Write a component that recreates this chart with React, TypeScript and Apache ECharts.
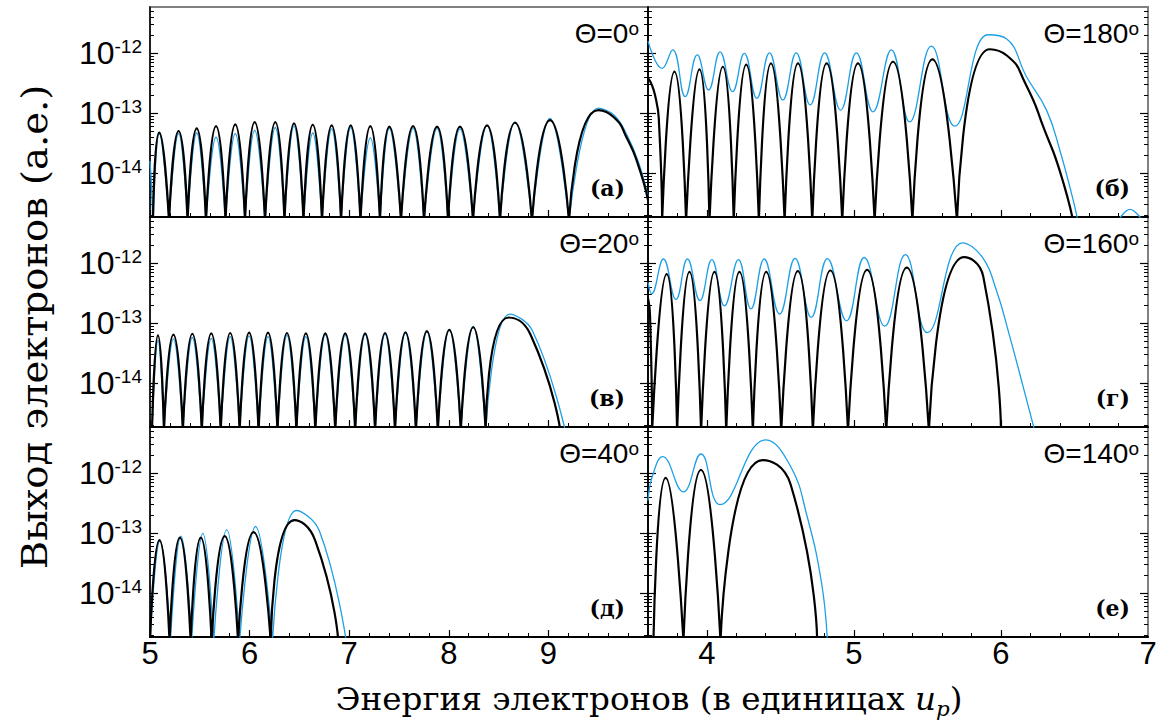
import React, { useEffect, useRef } from "react";
import * as echarts from "echarts";

type Pt = [number, number];

// ---------- axes ----------
const Y_MIN = 1.87e-15;
const Y_MAX = 5.92e-12;
const ZERO = 1.6e-15; // a fringe zero, drawn just under the axis floor
const LEFT_RANGE: Pt = [5, 10];
const RIGHT_RANGE: Pt = [3.6, 7];
const LEFT_LABELS = [5, 6, 7, 8, 9];
const RIGHT_LABELS = [4, 5, 6, 7];
const Y_LABELS = [1e-14, 1e-13, 1e-12];
const THETA = ["0", "180", "20", "160", "40", "140"];
const LETTERS = ["(а)", "(б)", "(в)", "(г)", "(д)", "(е)"];

// ---------- (а) Θ=0° ----------
const aZeros = [5.03, 5.191, 5.377, 5.562, 5.758, 5.954, 6.155, 6.35, 6.541, 6.727, 6.918, 7.113, 7.309, 7.52, 7.751, 7.992, 8.243, 8.514, 8.835, 9.207];
const aBlack: Pt[][] = [
  [[5.093, 4.75e-14]], [[5.287, 5.07e-14]], [[5.469, 5.62e-14]], [[5.663, 6.14e-14]], [[5.856, 6.56e-14]],
  [[6.051, 7.16e-14]], [[6.258, 7.16e-14]], [[6.446, 6.81e-14]], [[6.634, 6.45e-14]], [[6.824, 6.3e-14]],
  [[7.015, 6.3e-14]], [[7.212, 6.14e-14]], [[7.403, 5.98e-14]], [[7.641, 6.14e-14]], [[7.882, 5.98e-14]],
  [[8.112, 5.98e-14]], [[8.384, 6.3e-14]], [[8.665, 6.97e-14]], [[9.016, 7.73e-14]],
  [[9.5, 1.13e-13], [9.66, 8.5e-14], [9.79, 3.8e-14], [9.9, 1.4e-14], [10.0, 3.6e-15]],
];
const aBlue: Pt[][] = [
  [[5.093, 4.6e-14]], [[5.287, 4.6e-14]], [[5.469, 4.7e-14]], [[5.663, 4.0e-14]], [[5.856, 4.6e-14]],
  [[6.051, 5.2e-14]], [[6.258, 5.8e-14]], [[6.446, 6.1e-14]], [[6.634, 4.7e-14]], [[6.824, 5.5e-14]],
  [[7.015, 5.8e-14]], [[7.212, 3.9e-14]], [[7.403, 5.6e-14]], [[7.641, 5.6e-14]], [[7.882, 5.6e-14]],
  [[8.112, 5.5e-14]], [[8.384, 6.3e-14]], [[8.665, 7.2e-14]], [[9.016, 8.2e-14]],
  [[9.5, 1.22e-13], [9.66, 9.3e-14], [9.79, 4.3e-14], [9.9, 1.6e-14], [10.0, 4.2e-15]],
];
const aBlueLead: Pt[] = [[5.0, 1.6e-14], [5.015, 6e-15], [5.028, ZERO]];

// ---------- (б) Θ=180° ----------
const bLead: Pt[] = [[3.6, 3.9e-13], [3.648, 2.0e-13], [3.676, 6e-14], [3.696, ZERO]];
const bZeros = [3.696, 3.859, 4.018, 4.183, 4.354, 4.529, 4.717, 4.921, 5.141, 5.398, 5.701, 6.491];
const bBlack: Pt[][] = [
  [[3.78, 4.94e-13]], [[3.95, 5.41e-13]], [[4.109, 5.98e-13]], [[4.268, 6.5e-13]], [[4.436, 6.8e-13]],
  [[4.62, 6.8e-13]], [[4.815, 6.8e-13]], [[5.028, 6.8e-13]], [[5.266, 7.24e-13]], [[5.534, 7.94e-13]],
  [[5.924, 1.17e-12], [6.04, 9.2e-13], [6.17, 3.0e-13], [6.3, 5e-14], [6.4, 1.1e-14]],
];
const bBlue: Pt[] = [
  [3.6, 1.6e-12], [3.696, 5.6e-13], [3.768, 1.14e-12], [3.853, 1.9e-13], [3.935, 9.4e-13], [4.012, 2.45e-13],
  [4.09, 1.06e-12], [4.175, 2.3e-13], [4.255, 1.0e-12], [4.34, 1.78e-13], [4.426, 1.02e-12], [4.517, 1.67e-13],
  [4.608, 1.02e-12], [4.703, 1.38e-13], [4.801, 1.02e-12], [4.91, 1.13e-13], [5.017, 1.02e-12], [5.13, 1.06e-13],
  [5.255, 1.14e-12], [5.379, 7.2e-14], [5.527, 1.32e-12], [5.686, 6.1e-14], [5.912, 2.04e-12], [6.038, 1.75e-12],
  [6.174, 4.07e-13], [6.31, 1.13e-13], [6.4, 2.45e-14], [6.491, 3.6e-15], [6.523, ZERO],
];
const bBlueBump: Pt[] = [[6.797, ZERO], [6.877, 2.5e-15], [6.963, ZERO]];

// ---------- (в) Θ=20° ----------
const cZeros = [5.02, 5.14, 5.33, 5.52, 5.71, 5.9, 6.09, 6.28, 6.47, 6.66, 6.86, 7.06, 7.26, 7.46, 7.67, 7.89, 8.12, 8.37, 9.12];
const cBlack: Pt[][] = [
  [[5.08, 6.3e-14]], [[5.235, 6.5e-14]], [[5.425, 6.7e-14]], [[5.615, 6.8e-14]], [[5.805, 6.9e-14]],
  [[5.995, 7.0e-14]], [[6.185, 7.0e-14]], [[6.375, 6.9e-14]], [[6.565, 6.8e-14]], [[6.76, 6.8e-14]],
  [[6.96, 6.8e-14]], [[7.16, 6.8e-14]], [[7.36, 6.9e-14]], [[7.565, 7.1e-14]], [[7.78, 7.4e-14]],
  [[8.005, 7.8e-14]], [[8.245, 8.6e-14]],
  [[8.6, 1.25e-13], [8.82, 6.5e-14]],
];
const cBlueZeros = [5.02, 5.14, 5.33, 5.52, 5.71, 5.9, 6.09, 6.28, 6.47, 6.66, 6.86, 7.06, 7.26, 7.46, 7.67, 7.89, 8.12, 8.37, 9.17];
const cBlue: Pt[][] = [
  [[5.08, 5.2e-14]], [[5.235, 5.5e-14]], [[5.425, 5.8e-14]], [[5.615, 5.6e-14]], [[5.805, 6.0e-14]],
  [[5.995, 6.2e-14]], [[6.185, 6.0e-14]], [[6.375, 6.3e-14]], [[6.565, 6.0e-14]], [[6.76, 6.4e-14]],
  [[6.96, 6.3e-14]], [[7.16, 6.5e-14]], [[7.36, 6.6e-14]], [[7.565, 6.9e-14]], [[7.78, 7.2e-14]],
  [[8.005, 7.9e-14]], [[8.245, 8.9e-14]],
  [[8.61, 1.42e-13], [8.84, 7.5e-14]],
];

// ---------- (г) Θ=160° ----------
const eLead: Pt[] = [[3.6, 2.6e-13], [3.614, 1.3e-13], [3.628, ZERO]];
const eZeros = [3.628, 3.798, 3.961, 4.132, 4.313, 4.506, 4.721, 4.96, 5.22, 5.51, 6.0];
const eBlack: Pt[][] = [
  [[3.727, 6.6e-13]], [[3.882, 7.2e-13]], [[4.052, 7.2e-13]], [[4.222, 7.2e-13]], [[4.404, 7.2e-13]],
  [[4.619, 7.4e-13]], [[4.84, 7.6e-13]], [[5.09, 7.8e-13]], [[5.36, 8.5e-13]],
  [[5.75, 1.27e-12], [5.88, 6.0e-13]],
];
const eBlue: Pt[] = [
  [3.6, 4.8e-13], [3.625, 3.1e-13], [3.705, 1.18e-12], [3.79, 2.5e-13], [3.868, 1.18e-12], [3.953, 2.4e-13],
  [4.034, 1.15e-12], [4.12, 1.96e-13], [4.215, 1.15e-12], [4.3, 1.74e-13], [4.39, 1.18e-12], [4.495, 1.43e-13],
  [4.6, 1.21e-12], [4.71, 1.26e-13], [4.82, 1.2e-12], [4.95, 1.1e-13], [5.07, 1.25e-12], [5.21, 9e-14],
  [5.35, 1.4e-12], [5.5, 7e-14], [5.74, 2.2e-12], [5.87, 1.3e-12], [5.97, 3.5e-13], [6.06, 6e-14],
  [6.15, 9e-15], [6.23, ZERO],
];

// ---------- (д) Θ=40° ----------
const dZeros = [5.0, 5.196, 5.408, 5.619, 5.884, 6.212, 6.89];
const dBlack: Pt[][] = [
  [[5.095, 7.7e-14]], [[5.3, 8.5e-14]], [[5.51, 8.5e-14]], [[5.75, 9e-14]], [[6.04, 1.05e-13]],
  [[6.45, 1.66e-13], [6.66, 7.5e-14]],
];
const dBlueZeros = [5.0, 5.205, 5.418, 5.64, 5.9, 6.23, 6.97];
const dBlue: Pt[][] = [
  [[5.1, 7.5e-14]], [[5.31, 9e-14]], [[5.53, 1.0e-13]], [[5.77, 1.15e-13]], [[6.06, 1.3e-13]],
  [[6.47, 2.4e-13], [6.7, 1.1e-13]],
];

// ---------- (е) Θ=140° ----------
const fZeros = [3.637, 3.841, 4.093, 4.75];
const fBlack: Pt[][] = [[[3.72, 8.4e-13]], [[3.96, 1.14e-12]], [[4.38, 1.66e-12], [4.57, 6.5e-13]]];
const fBlue: Pt[] = [
  [3.6, 3.5e-13], [3.63, 9e-13], [3.7, 1.9e-12], [3.84, 4.9e-13], [3.96, 2.1e-12], [4.09, 3e-13],
  [4.4, 3.6e-12], [4.57, 1.3e-12], [4.68, 2e-13], [4.78, 1.5e-14], [4.82, ZERO],
];

// ---------- helpers ----------
const GAP: any = ["-", "-"];
function fringes(zeros: number[], inner: Pt[][]): any[] {
  const out: any[] = [];
  inner.forEach((pts, i) => {
    out.push([zeros[i], ZERO]);
    pts.forEach((p) => out.push(p));
    if (zeros[i + 1] !== undefined) out.push([zeros[i + 1], ZERO]);
    out.push(GAP);
  });
  return out;
}

const BLUE = "#1c9fe6";
const BLACK = "#000000";

const GRID_LEFT = [150, 648];
const GRID_WIDTH = [498, 500];
const GRID_TOP = [7, 217, 427];
const GRID_H = 210;

function minorTicks(a: number, b: number): number[] {
  const r: number[] = [];
  for (let i = Math.round(a * 5); i <= Math.round(b * 5); i++) {
    if (i % 5 !== 0) r.push(i / 5);
  }
  return r;
}
function yMinor(): number[] {
  const r: number[] = [];
  for (let e = -15; e <= -12; e++) {
    for (let m = 2; m <= 9; m++) {
      const v = m * Math.pow(10, e);
      if (v > Y_MIN && v < Y_MAX) r.push(v);
    }
  }
  return r;
}
const Y_MAJOR = [1e-14, 1e-13, 1e-12];

export default function App() {
  const ref = useRef<HTMLDivElement>(null);
  useEffect(() => {
    if (!ref.current) return;
    const chart = echarts.init(ref.current, undefined, { renderer: "svg" });
    const grids: any[] = [];
    const xAxes: any[] = [];
    const yAxes: any[] = [];
    const series: any[] = [];
    const graphics: any[] = [];

    const panelData: { blue: any[]; black: any[] }[] = [
      { blue: [...aBlueLead, GAP, ...fringes(aZeros, aBlue)], black: fringes(aZeros, aBlack) },
      { blue: [...bBlue, GAP, ...bBlueBump], black: [...bLead, GAP, ...fringes(bZeros, bBlack)] },
      { blue: fringes(cBlueZeros, cBlue), black: fringes(cZeros, cBlack) },
      { blue: eBlue, black: [...eLead, GAP, ...fringes(eZeros, eBlack)] },
      { blue: fringes(dBlueZeros, dBlue), black: fringes(dZeros, dBlack) },
      { blue: fBlue, black: fringes(fZeros, fBlack) },
    ];

    for (let g = 0; g < 6; g++) {
      const col = g % 2;
      const row = Math.floor(g / 2);
      const left = GRID_LEFT[col];
      const top = GRID_TOP[row];
      const width = GRID_WIDTH[col];
      const bottomRow = row === 2;
      const range = col === 0 ? LEFT_RANGE : RIGHT_RANGE;
      grids.push({ left, top, width, height: GRID_H, show: true, borderColor: "#808080", borderWidth: 2, backgroundColor: "transparent" });
      const majors = col === 0 ? [5, 6, 7, 8, 9] : [4, 5, 6];
      xAxes.push({
        type: "value", gridIndex: g, min: range[0], max: range[1], position: "bottom",
        axisLine: { show: true, onZero: false, lineStyle: { color: "#000", width: 2 } },
        axisTick: { show: true, inside: true, length: 7, customValues: majors, lineStyle: { color: "#000", width: 1.2 } },
        axisLabel: {
          show: bottomRow, customValues: col === 0 ? LEFT_LABELS : RIGHT_LABELS, margin: 1,
          fontFamily: "Liberation Sans", fontSize: 31, color: "#000",
        },
        splitLine: { show: false },
      });
      xAxes.push({
        type: "value", gridIndex: g, min: range[0], max: range[1], position: "bottom",
        axisLine: { show: false },
        axisTick: { show: true, inside: true, length: 4, customValues: minorTicks(range[0], range[1]), lineStyle: { color: "#000", width: 1 } },
        axisLabel: { show: false },
        splitLine: { show: false },
      });
      const sides: ("left" | "right")[] = ["left", "right"];
      sides.forEach((pos) => {
        const edgeColor = col === 1 && pos === "right" ? "#808080" : "#000";
        [true, false].forEach((major) => {
          yAxes.push({
            type: "log", logBase: 10, gridIndex: g, min: Y_MIN, max: Y_MAX, position: pos,
            axisLine: { show: major, onZero: false, lineStyle: { color: edgeColor, width: 1.5 } },
            axisTick: {
              show: true, inside: true, length: major ? 8 : 4,
              customValues: major ? Y_MAJOR : yMinor(),
              lineStyle: { color: "#000", width: major ? 1.2 : 1 },
            },
            axisLabel: {
              show: major && pos === "left" && col === 0,
              customValues: Y_LABELS,
              margin: 8,
              formatter: (v: number) => `{a|10}{b|${Math.round(Math.log10(v))}}`,
              rich: {
                a: { fontFamily: "Liberation Sans", fontSize: 32, color: "#000", lineHeight: 32 },
                b: { fontFamily: "Liberation Sans", fontSize: 19, color: "#000", verticalAlign: "top", lineHeight: 18 },
              },
            },
            splitLine: { show: false },
          });
        });
      });
      const pd = panelData[g];
      series.push({
        type: "line", xAxisIndex: 2 * g, yAxisIndex: 4 * g, data: pd.blue, showSymbol: false, symbol: "none",
        smooth: 0.45, lineStyle: { color: BLUE, width: 1.3 }, clip: true, silent: true,
      });
      series.push({
        type: "line", xAxisIndex: 2 * g, yAxisIndex: 4 * g, data: pd.black, showSymbol: false, symbol: "none",
        smooth: 0.6, lineStyle: { color: BLACK, width: 2.2 }, clip: true, silent: true,
      });
      const right = left + width;
      graphics.push({
        type: "text", x: right - 9, y: top + 26, z: 100,
        style: {
          text: `{t|Θ=${THETA[g]}}{s|o}`, align: "right", verticalAlign: "middle",
          rich: {
            t: { fontFamily: "Liberation Sans", fontSize: 28, fill: "#000", lineHeight: 28 },
            s: { fontFamily: "Liberation Sans", fontSize: 19, fill: "#000", verticalAlign: "top", lineHeight: 14 },
          },
        },
      });
      graphics.push({
        type: "text", x: right - (col === 0 ? 23 : 18), y: top + 181, z: 100,
        style: { text: LETTERS[g], align: "right", verticalAlign: "middle", font: 'bold 22px "DejaVu Serif"', fill: "#000" },
      });
    }

    graphics.push({
      type: "text", x: 35, y: 327, rotation: Math.PI / 2, scaleX: 1.1, z: 100,
      style: { text: "Выход электронов (а.е.)", align: "center", verticalAlign: "middle", font: '35px "DejaVu Serif"', fill: "#000" },
    });
    graphics.push({
      type: "text", x: 649, y: 699, scaleX: 1.02, z: 100,
      style: {
        text: "{n|Энергия электронов (в единицах }{u|u}{p|p}{n|)}", align: "center", verticalAlign: "middle",
        rich: {
          n: { fontFamily: "DejaVu Serif", fontSize: 32, fill: "#000", lineHeight: 40 },
          u: { fontFamily: "DejaVu Serif", fontStyle: "italic", fontSize: 32, fill: "#000", lineHeight: 40 },
          p: { fontFamily: "DejaVu Serif", fontStyle: "italic", fontSize: 21, fill: "#000", verticalAlign: "bottom", lineHeight: 30 },
        },
      },
    });

    chart.setOption({
      animation: false,
      backgroundColor: "#ffffff",
      grid: grids,
      xAxis: xAxes,
      yAxis: yAxes,
      series,
      graphic: graphics,
    });
    return () => chart.dispose();
  }, []);
  return <div ref={ref} style={{ position: "fixed", left: 0, top: 0, width: 1165, height: 724 }} />;
}
